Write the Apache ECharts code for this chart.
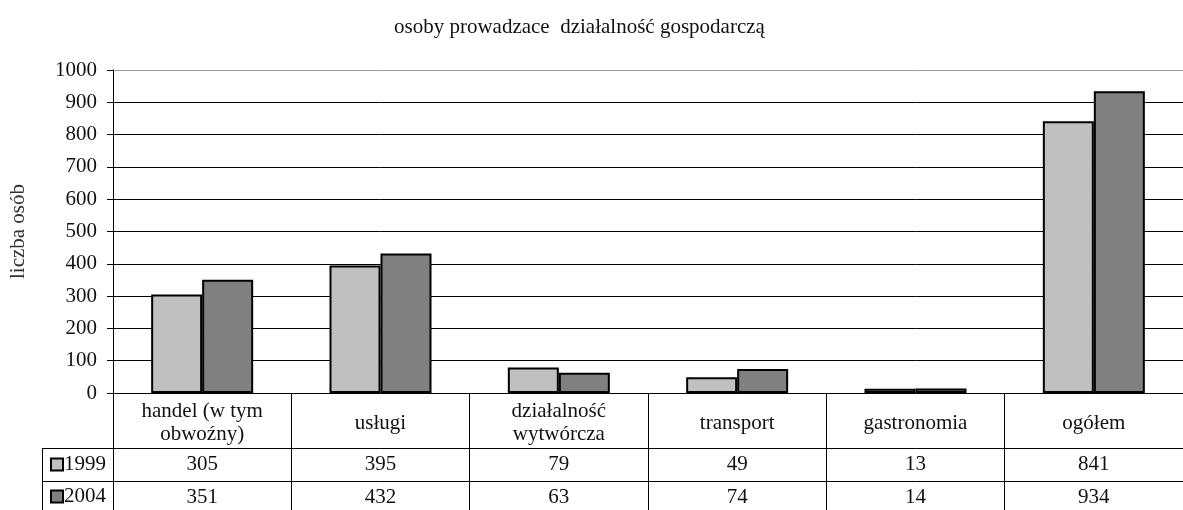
<!DOCTYPE html>
<html>
<head>
<meta charset="utf-8">
<script src="https://cdn.jsdelivr.net/npm/echarts@6/dist/echarts.min.js"></script>
<style>
  html, body { margin: 0; padding: 0; background: #fff; }
  #chart { width: 1183px; height: 510px; }
</style>
</head>
<body>
<div id="chart"></div>
<script>
// dane z wykresu
const categories = ['handel (w tym\nobwoźny)', 'usługi', 'działalność\nwytwórcza', 'transport', 'gastronomia', 'ogółem']
const years = ['1999', '2004']
const values1999 = [305, 395, 79, 49, 13, 841]
const values2004 = [351, 432, 63, 74, 14, 934]
const yTicks = { min: 0, max: 1000, interval: 100 }

const FONT = '"Liberation Serif", "DejaVu Serif", serif'
const FS = 21
const TXT = '#111'

let chart = echarts.init(document.getElementById('chart'))

// wiersz tabeli pod osia - kazdy wiersz to osobna os kategorii
function tableAxis (offset, tickLen, margin, formatter, lineHeight) {
  return {
    type: 'category',
    data: categories,
    position: 'bottom',
    offset: offset,
    boundaryGap: true,
    axisLine: { show: true, lineStyle: { color: '#000', width: 1 } },
    axisTick: { show: true, interval: 0, length: tickLen, lineStyle: { color: '#000', width: 1 } },
    axisLabel: {
      interval: 0,
      margin: margin,
      verticalAlign: 'middle',
      fontFamily: FONT,
      fontSize: FS,
      color: TXT,
      lineHeight: lineHeight || 22,
      formatter: formatter
    },
    splitLine: { show: false }
  }
}

// legenda w komorkach tabeli, jedna na wiersz
function rowLegend (name, top) {
  return {
    orient: 'vertical',
    left: 45,
    top: top,
    icon: 'rect',
    itemWidth: 12,
    itemHeight: 12,
    itemGap: 0,
    data: [name],
    textStyle: { fontFamily: FONT, fontSize: FS, color: TXT, padding: [0, 0, 0, -4] },
    selectedMode: false
  }
}

const gridColors = ['#000', '#000', '#000', '#000', '#000', '#000', '#000', '#000', '#000', '#000', '#999']

const option = {
  animation: false,
  backgroundColor: '#fff',
  title: {
    text: 'osoby prowadzace  działalność gospodarczą',
    left: 389,
    top: 12,
    textStyle: { fontFamily: FONT, fontSize: FS, fontWeight: 'normal', color: TXT }
  },
  legend: [rowLegend(years[0], 449), rowLegend(years[1], 481)],
  grid: { left: 113, right: -8, top: 70, bottom: 117 },
  xAxis: [
    tableAxis(0, 55, 30, (v) => v, 23),
    tableAxis(55, 33, 16, (v, i) => String(values1999[i])),
    tableAxis(88, 29, 16, (v, i) => String(values2004[i]))
  ],
  yAxis: {
    type: 'value',
    min: yTicks.min,
    max: yTicks.max,
    interval: yTicks.interval,
    name: 'liczba osób',
    nameLocation: 'middle',
    nameGap: 84,
    nameTextStyle: { fontFamily: FONT, fontSize: FS, color: '#333' },
    axisLine: { show: true, lineStyle: { color: '#000', width: 1 } },
    axisTick: { show: true, length: 6, lineStyle: { color: '#000' } },
    axisLabel: { margin: 16, fontFamily: FONT, fontSize: FS, color: TXT, formatter: (v) => String(v) },
    splitLine: { show: true, lineStyle: { color: gridColors, width: 1 } }
  },
  series: [
    {
      name: years[0],
      type: 'bar',
      xAxisIndex: 0,
      data: values1999,
      barWidth: 51,
      barGap: '0%',
      itemStyle: { color: '#c0c0c0', borderColor: '#000', borderWidth: 2 }
    },
    {
      name: years[1],
      type: 'bar',
      xAxisIndex: 0,
      data: values2004,
      barWidth: 51,
      barGap: '0%',
      itemStyle: { color: '#808080', borderColor: '#000', borderWidth: 2 }
    }
  ],
  // ramka komorek legendy po lewej stronie tabeli
  graphic: [
    { type: 'line', shape: { x1: 42, y1: 448.5, x2: 113, y2: 448.5 }, style: { stroke: '#000', lineWidth: 1 } },
    { type: 'line', shape: { x1: 42, y1: 481.5, x2: 113, y2: 481.5 }, style: { stroke: '#000', lineWidth: 1 } },
    { type: 'line', shape: { x1: 42.5, y1: 448, x2: 42.5, y2: 510 }, style: { stroke: '#000', lineWidth: 1 } }
  ]
}

chart.setOption(option)
</script>
</body>
</html>
